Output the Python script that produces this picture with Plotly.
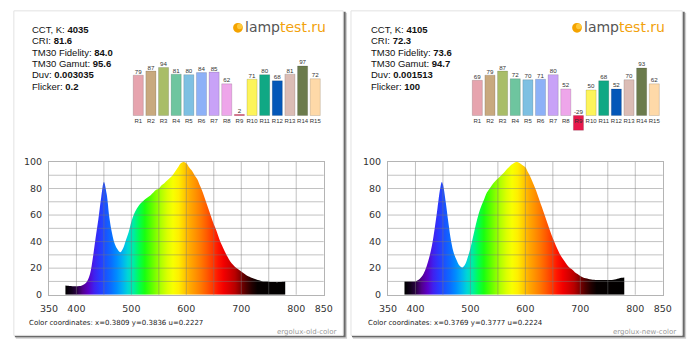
import plotly.graph_objects as go

# ---------------- data ----------------
cri_labels = ["R1", "R2", "R3", "R4", "R5", "R6", "R7", "R8", "R9", "R10", "R11", "R12", "R13", "R14", "R15"]
cri_old = [79, 87, 94, 81, 80, 84, 85, 62, 2, 71, 80, 68, 81, 97, 72]
cri_new = [69, 79, 87, 72, 70, 71, 80, 52, -29, 50, 68, 52, 70, 93, 62]
cri_colors = ["#e6a4ae", "#c8a97e", "#a9bd68", "#6ec59f", "#7ec0e2", "#8db1f7", "#c8a2f7", "#eea6ea",
              "#e8174b", "#fdf45a", "#10a884", "#0457b8", "#dbbcb5", "#6b7b4c", "#fed9a8"]

info_keys = ["CCT, K", "CRI", "TM30 Fidelity", "TM30 Gamut", "Duv", "Flicker"]
info_old = ["4035", "81.6", "84.0", "95.6", "0.003035", "0.2"]
info_new = ["4105", "72.3", "73.6", "94.7", "0.001513", "100"]

coords_old = "Color coordinates: x=0.3809 y=0.3836 u=0.2227"
coords_new = "Color coordinates: x=0.3769 y=0.3777 u=0.2224"
name_old = "ergolux-old-color"
name_new = "ergolux-new-color"

wl_old = [380, 385, 390, 395, 400, 405, 410, 415, 420, 425, 430, 435, 440, 445, 450, 455, 460, 465, 470, 475,
          480, 485, 490, 495, 500, 505, 510, 515, 520, 525, 530, 535, 540, 545, 550, 555, 560, 565, 570, 575,
          580, 585, 590, 595, 600, 605, 610, 615, 620, 625, 630, 635, 640, 645, 650, 655, 660, 665, 670, 675,
          680, 685, 690, 695, 700, 705, 710, 715, 720, 725, 730, 735, 740, 745, 750, 755, 760, 765, 770, 775, 780]
spec_old = [7, 6.8, 6.5, 6.3, 6.3, 6.5, 7, 8, 10.5, 16, 28, 43, 57, 73, 85, 76, 58, 46, 38, 34,
            32, 35, 41, 47, 55, 61, 65, 68, 70, 72, 73.5, 75, 77, 79, 80, 82.5, 84, 86, 88, 90,
            93, 96, 99, 100, 99, 96, 93.5, 90, 87, 82, 77, 71, 65, 59, 53, 48, 42, 37, 32.5, 28.5,
            25, 22.5, 20.5, 19, 17.5, 16, 14.5, 13.5, 12.5, 11.8, 11, 10.5, 10, 10, 9.8, 9.6, 9.5, 9.4, 9.5, 9.8, 10]

wl_new = [380, 385, 390, 395, 400, 405, 410, 415, 420, 425, 430, 435, 440, 445, 448, 450, 455, 460, 465, 470,
          475, 480, 485, 490, 495, 500, 505, 510, 515, 520, 525, 530, 535, 540, 545, 550, 555, 560, 565, 570,
          575, 580, 585, 590, 595, 600, 605, 610, 615, 620, 625, 630, 635, 640, 645, 650, 655, 660, 665, 670,
          675, 680, 685, 690, 695, 700, 705, 710, 715, 720, 725, 730, 735, 740, 745, 750, 755, 760, 765, 770, 775, 780]
spec_new = [10, 10, 10, 10, 10, 11, 13, 16, 21, 28, 37, 50, 65, 80, 85, 83, 70, 54, 40, 31,
            26, 22, 20.5, 22.5, 28, 35, 44, 53, 61, 67, 72, 77, 80, 83, 85.5, 87.5, 89.5, 91.5, 94, 96,
            98, 99.5, 100, 99, 97.5, 96, 92, 88, 83, 78, 72, 66, 60, 54, 48, 42.5, 37.5, 33, 29, 26,
            23, 20.5, 19, 17, 15.5, 14, 13, 12.3, 11.8, 11.4, 11.2, 11, 11, 11, 11, 11, 11, 11.3, 11.7, 12.2, 12.7, 13]

x_ticks = [350, 400, 450, 500, 550, 600, 650, 700, 750, 800, 850]
x_ticktext = ["350", "400", "", "500", "", "600", "", "700", "", "800", "850"]
y_ticks = [0, 10, 20, 30, 40, 50, 60, 70, 80, 90, 100]
y_ticktext = ["0", "", "20", "", "40", "", "60", "", "80", "", "100"]

# wavelength -> colour for the gradient fill
grad_wl = [380, 390, 400, 410, 420, 430, 440, 450, 460, 470, 480, 490, 500, 510, 520, 530, 540, 550, 560,
           570, 580, 590, 600, 610, 620, 630, 640, 650, 660, 670, 680, 690, 700, 710, 720, 780]
grad_col = ["#000000", "#12001c", "#2c0048", "#52008e", "#5a00c8", "#4020ee", "#2a38ff", "#1a52ff",
            "#0a6cff", "#008cff", "#00b0f2", "#00d6d6", "#00eca4", "#00ff50", "#18ff10", "#50ff00",
            "#84ff00", "#b4ff00", "#dcff00", "#f8ff00", "#ffee00", "#ffcc00", "#ffaa00", "#ff9200",
            "#ff7800", "#ff5a00", "#ff3a00", "#ff1400", "#f20000", "#d60000", "#b80000", "#820000",
            "#4c0000", "#220000", "#060000", "#000000"]

# ---------------- helpers ----------------
W, H = 700, 352


def X(p):
    return p / W


def Y(p):
    return 1 - p / H


colorscale = [[(w - 380) / 400, c] for w, c in zip(grad_wl, grad_col)]

fig = go.Figure()
shapes = []
annotations = []
layout_axes = {}

panels = [
    (0, cri_old, info_old, coords_old, name_old, wl_old, spec_old, 5, 343),
    (348, cri_new, info_new, coords_new, name_new, wl_new, spec_new, 351, 691),
]

for i, (dx, cri, info, coords, name, wl, spec, pl, pr) in enumerate(panels):
    bx = "x" if i == 0 else "x3"
    by = "y" if i == 0 else "y3"
    sx = "x2" if i == 0 else "x4"
    sy = "y2" if i == 0 else "y4"
    bxk = "xaxis" if i == 0 else "xaxis3"
    byk = "yaxis" if i == 0 else "yaxis3"
    sxk = "xaxis2" if i == 0 else "xaxis4"
    syk = "yaxis2" if i == 0 else "yaxis4"

    # panel card with shadow
    shapes.append(dict(type="rect", xref="paper", yref="paper", x0=X(pl + 2), x1=X(pr + 4),
                       y0=Y(343.5), y1=Y(7), fillcolor="#cfcfcf", line=dict(width=0), layer="below"))
    shapes.append(dict(type="rect", xref="paper", yref="paper", x0=X(pl + 1), x1=X(pr + 2.5),
                       y0=Y(342), y1=Y(6), fillcolor="#6a6a6a", line=dict(width=0), layer="below"))
    shapes.append(dict(type="rect", xref="paper", yref="paper", x0=X(pl), x1=X(pr),
                       y0=Y(340), y1=Y(5), fillcolor="white", line=dict(color="#e2e2e2", width=1),
                       layer="below"))

    # CRI bars
    fig.add_trace(go.Bar(x=cri_labels, y=cri, xaxis=bx, yaxis=by,
                         marker=dict(color=cri_colors, line=dict(color="rgba(0,0,0,0.2)", width=0.7)),
                         showlegend=False, hoverinfo="skip"))
    fig.add_trace(go.Scatter(x=cri_labels, y=[max(v, 0) for v in cri], xaxis=bx, yaxis=by,
                             mode="text", text=[str(v) for v in cri], textposition="top center",
                             textfont=dict(size=6.2, color="#333", family="Liberation Sans"),
                             showlegend=False, hoverinfo="skip"))
    layout_axes[bxk] = dict(domain=[X(122.6 + dx), X(324.4 + dx)], anchor="free", position=Y(113),
                            type="category", showgrid=False, showline=False, zeroline=False, ticks="",
                            tickangle=0,
                            tickfont=dict(size=6, family="Liberation Sans", color="#333"),
                            ticklabelstandoff=1)
    layout_axes[byk] = dict(domain=[Y(135), Y(50)], range=[-41.7, 119.6], visible=False, anchor=bx)

    # spectrum
    fig.add_trace(go.Scatter(x=wl, y=spec, xaxis=sx, yaxis=sy, mode="lines",
                             line=dict(width=0, color="rgba(0,0,0,0)", shape="spline", smoothing=1.0),
                             fill="tozeroy",
                             fillgradient=dict(type="horizontal", colorscale=colorscale, start=380, stop=780),
                             showlegend=False, hoverinfo="skip"))
    layout_axes[sxk] = dict(domain=[X(41 + dx), X(323 + dx)], range=[350, 850], tickvals=x_ticks,
                            ticktext=x_ticktext, showgrid=False, zeroline=False, showline=True, mirror=True,
                            linecolor="#b4b4b4", linewidth=1, ticks="", anchor=sy,
                            tickfont=dict(size=9.5, family="DejaVu Sans", color="#333"),
                            ticklabelstandoff=5)
    layout_axes[syk] = dict(domain=[Y(298), Y(161)], range=[0, 100], tickvals=y_ticks,
                            ticktext=y_ticktext, showgrid=False, zeroline=False, showline=True, mirror=True,
                            linecolor="#b4b4b4", linewidth=1, ticks="", anchor=sx,
                            tickfont=dict(size=9.5, family="DejaVu Sans", color="#333"),
                            ticklabelstandoff=4)
    for v in x_ticks[1:-1]:
        shapes.append(dict(type="line", xref=sx, yref=sy + " domain", x0=v, x1=v, y0=0, y1=1,
                           line=dict(color="rgba(120,120,120,0.45)", width=1), layer="above"))
    for v in y_ticks[1:-1]:
        shapes.append(dict(type="line", xref=sx + " domain", yref=sy, x0=0, x1=1, y0=v, y1=v,
                           line=dict(color="rgba(120,120,120,0.45)", width=1), layer="above"))

    # info text
    for k, (key, val) in enumerate(zip(info_keys, info)):
        annotations.append(dict(xref="paper", yref="paper", x=X(22 + dx), y=Y(24 + k * 11.75),
                                xanchor="left", yanchor="middle", showarrow=False,
                                text=f"{key}: <b>{val}</b>",
                                font=dict(size=9.5, family="Liberation Sans", color="#111")))
    # logo
    shapes.append(dict(type="circle", xref="paper", yref="paper", x0=X(230 + dx), x1=X(240 + dx),
                       y0=Y(27.5), y1=Y(17.5), fillcolor="#f4a300", line=dict(width=0), layer="above"))
    shapes.append(dict(type="circle", xref="paper", yref="paper", x0=X(234 + dx), x1=X(239.5 + dx),
                       y0=Y(24), y1=Y(18), fillcolor="#ffc93a", line=dict(width=0), layer="above"))
    annotations.append(dict(xref="paper", yref="paper", x=X(240 + dx), y=Y(22), xanchor="left",
                            yanchor="middle", showarrow=False,
                            text="<span style='color:#555555'>lamp</span><span style='color:#f2a20c'>test.ru</span>",
                            font=dict(size=14, family="DejaVu Sans")))
    # footer
    annotations.append(dict(xref="paper", yref="paper", x=X(18 + dx), y=Y(327), xanchor="left",
                            yanchor="middle", showarrow=False, text=coords,
                            font=dict(size=7, family="DejaVu Sans", color="#222")))
    annotations.append(dict(xref="paper", yref="paper", x=X(339 + dx), y=Y(336.5), xanchor="right",
                            yanchor="middle", showarrow=False, text=name,
                            font=dict(size=7, family="DejaVu Sans", color="#999")))

fig.update_layout(width=W, height=H, margin=dict(l=0, r=0, t=0, b=0), paper_bgcolor="white",
                  plot_bgcolor="rgba(0,0,0,0)", bargap=0.2, shapes=shapes, annotations=annotations,
                  showlegend=False, **layout_axes)

fig.write_html("out.html")
